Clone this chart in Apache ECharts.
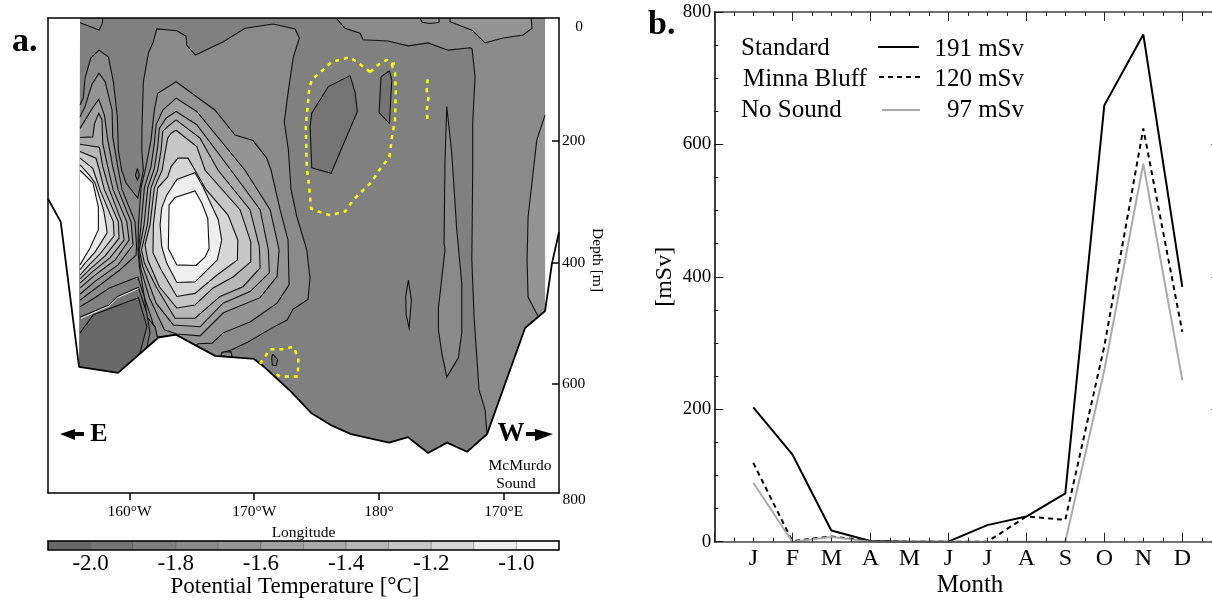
<!DOCTYPE html>
<html><head><meta charset="utf-8">
<style>html,body{margin:0;padding:0;background:#fff;overflow:hidden}#c{width:1212px;height:600px}</style>
<script src="https://cdn.jsdelivr.net/npm/echarts@6/dist/echarts.min.js"></script>
</head><body><div id="c"></div>
<script>
// ---------- panel b data ----------
const monthLabels = ['J','F','M','A','M','J','J','A','S','O','N','D'];
const standardDose = [203,132,17,1,0,0,25,38,73,659,766,385];
const minnaBluffDose = [119,1,8,1,0,0,0,38,33,295,624,317];
const noSoundDose = [89,0,7,0,0,0,0,0,0,259,571,244];

// ---------- panel a data: [longitude (deg, 190 = 170E), depth (m)] ----------
const terrain = [[153.46,295],[154.48,333],[155.95,572],[159.08,582],[162.29,524],[163.73,519],[166.86,554],[169.98,559],[170.79,572],[172.95,613],[174.56,648],[176.24,669],[177.76,683],[180.81,697],[182.34,688],[183.94,714],[185.46,697],[187.07,712],[188.67,683],[191.72,508],[193.32,480],[193.88,401],[194.44,350]];
const fieldTopEdge = [[156.03,-3],[193.32,-3]];
const warm8a = [[156.03,140],[156.29,129],[156.43,96],[156.89,63],[157.55,50],[158.30,61],[158.70,102],[159.02,160],[159.10,215],[159.37,248],[159.72,269],[160.66,294],[161.11,248],[160.98,215],[161.0,176],[161.11,102],[161.51,55],[161.91,36],[162.18,15],[163.79,18],[164.53,27],[164.59,42],[165.28,58],[167.52,36],[169.26,14],[171.53,7],[173.27,15],[173.62,30],[173.14,61],[172.74,116],[172.41,168],[172.74,215],[172.95,280],[173.41,324],[174.21,379],[174.47,426],[174.31,461],[173.11,477],[172.63,495],[171.51,507],[169.5,531],[168.2,544],[167.39,549],[167.34,554]];
const warm8aClose = [[166.86,554],[163.73,519],[162.29,524],[159.08,582],[155.95,572],[156.03,140]];
const topLeftPatch = [[156.03,5],[157.55,17],[157.82,6],[157.85,-3]];
const topLeftClose = [[156.03,-3]];
const eastWarm = [[188.67,683],[188.51,643],[188.03,610],[187.63,490],[187.45,396],[187.52,248],[187.52,170],[187.71,94],[187.47,48],[187.31,46],[185.54,50],[183.94,38],[182.34,43],[180.73,35],[178.73,33],[178.49,22],[177.28,14],[176.56,-3]];
const eastWarmClose = [[193.32,-3],[193.32,480],[191.72,508]];
const eastStrip = [[193.32,157],[192.66,198],[191.96,325],[191.88,396],[191.96,457],[192.74,488]];
const eastStripClose = [[193.32,480]];
const topPatchEast = [[185.7,-3],[185.7,3],[187.47,17],[188.51,38],[189.95,30],[191.56,25],[192.28,14],[192.2,-3]];
const topCap = [[183.3,-3],[183.46,4],[184.1,6],[184.82,4],[184.82,-3]];

const lobe94 = [[156.03,160],[156.43,143],[156.97,107],[157.55,88],[158.04,102],[158.60,149],[158.65,193],[159.05,242],[159.40,280],[160.44,333],[160.56,373],[160.52,388],[159.24,412],[157.31,442],[156.03,462]];
const lobeA0 = [[156.03,179],[157.05,145],[157.53,131],[157.98,157],[158.25,198],[158.65,242],[159.08,280],[160.12,333],[160.28,371],[159.08,404],[157.31,430],[156.03,452]];
const lobeAA = [[156.03,194],[157.05,193],[157.19,171],[157.53,154],[157.79,165],[157.85,204],[158.25,242],[158.68,280],[159.78,333],[159.96,363],[158.84,396],[157.15,422],[156.03,442]];
const lobeB6 = [[156.03,205],[157.58,210],[157.85,242],[158.38,280],[159.37,333],[159.56,363],[158.44,392],[156.99,416],[156.03,434]];
const lobeC4 = [[156.03,217],[157.31,228],[157.58,248],[157.98,280],[159.10,333],[159.16,360],[158.04,389],[156.83,411],[156.03,427]];
const lobeD4 = [[156.03,228],[157.05,245],[157.45,269],[157.62,280],[158.70,333],[158.76,356],[157.63,386],[156.67,406],[156.03,421]];
const lobeEE = [[156.03,239],[156.78,256],[157.23,269],[157.91,313],[158.12,338],[158.20,351],[157.23,383],[156.43,401],[156.03,412]];
const lobeWhite = [[156.03,248],[157.07,269],[157.50,309],[157.50,346],[156.83,376],[156.03,404]];

const mid94 = [[172.71,363],[172.79,437],[171.83,467],[169.66,498],[167.5,516],[166.62,533],[165.49,534],[165.33,537],[163.73,519],[162.21,523],[161.8,495],[161.19,457],[160.79,407],[160.68,379],[160.71,338],[160.92,277],[161.32,242],[161.72,198],[161.99,149],[162.26,121],[163.73,102],[166.86,149],[168.46,190],[169.9,199],[171.0,228],[171.35,248],[172.07,313]];
const midA0 = [[171.99,379],[171.83,423],[170.47,458],[167.52,483],[165.65,521],[163.79,518],[162.79,511],[161.59,458],[160.92,412],[160.72,379],[160.92,338],[161.19,277],[161.72,242],[161.99,203],[162.13,173],[162.66,149],[163.73,129],[165.39,151],[169.26,248],[171.27,313]];
const midAA = [[171.13,379],[171.21,417],[169.66,448],[167.5,467],[165.65,506],[163.51,503],[162.13,467],[161.06,407],[160.79,379],[161.16,338],[161.46,277],[161.99,245],[162.26,209],[162.39,179],[162.93,162],[163.73,151],[165.39,173],[168.14,248],[170.47,313]];
const midB6 = [[170.41,374],[170.47,409],[169.1,440],[167.26,456],[165.25,492],[163.65,492],[162.13,440],[161.19,401],[160.96,379],[161.43,338],[161.72,277],[162.26,248],[162.53,215],[162.66,184],[163.06,176],[163.73,165],[165.65,195],[167.1,248],[169.66,313]];
const midC4 = [[169.72,366],[169.72,399],[168.3,424],[166.7,442],[165.25,470],[163.79,475],[162.39,440],[161.46,396],[161.24,371],[161.64,338],[161.99,277],[162.61,248],[162.79,226],[163.06,195],[163.33,187],[163.73,182],[165.39,209],[166.06,248],[168.86,313]];
const midD4 = [[168.68,363],[168.65,396],[166.99,421],[165.25,451],[163.79,456],[162.53,412],[161.88,384],[161.91,338],[162.26,277],[163.06,259],[163.33,242],[163.87,228],[164.69,228],[165.25,248],[166.14,280],[167.9,322]];
const midEE = [[167.39,363],[167.04,396],[165.25,432],[163.79,433],[162.98,401],[162.58,374],[162.45,338],[162.58,310],[162.98,289],[163.79,263],[165.25,252],[165.89,275],[167.12,330]];
const midWhite = [[166.38,377],[166.06,391],[165.33,405],[163.79,404],[163.11,377],[163.17,305],[163.65,293],[165.25,282],[165.79,302],[166.27,327]];

const wedge80 = [[156.03,473],[157.31,457],[158.38,442],[160.66,424],[161.19,457],[161.4,490],[162.05,506],[162.23,523]];
const wedge80Close = [[162.29,524],[159.08,582],[155.95,572]];
const wedge74 = [[156.03,490],[158.36,470],[159.05,456],[160.71,441],[161.38,483],[161.64,516],[161.38,541]];
const wedge68 = [[156.03,516],[157.1,486],[160.71,458],[161.24,495],[161.38,506],[160.84,549]];
const wedgeFootClose = [[159.08,582],[155.95,572]];
const paleGlitch = [[156.1,492],[158.36,472],[159.05,458],[160.71,443]];

const coldA = [[177.69,92],[178.09,120],[178.27,151],[176.16,253],[174.61,244],[174.48,176],[174.61,154],[175.94,110]];
const coldB = [[180.84,84],[181.03,99],[180.84,171],[180.01,153],[180.17,94]];
const coldC = [[160.63,245],[160.79,256],[160.63,264],[160.47,256]];
const coldD = [[171.48,551],[171.88,560],[171.75,570],[171.45,569],[171.4,557]];
const lensA = [[182.36,429],[182.6,462],[182.42,508],[182.18,486],[182.15,456]];
const lensB = [[185.44,143],[185.84,220],[186.24,346],[186.64,434],[186.64,516],[186.37,557],[185.44,589],[185.04,549],[184.77,511],[184.77,475],[185.3,379],[185.22,368],[185.3,231]];
const notch = [[167.34,554],[167.42,548],[168.14,547],[168.22,556]];

const yellowA = [[179.29,86],[179.95,74],[180.63,66],[181.03,74],[181.29,88],[181.35,121],[181.29,165],[181.03,195],[180.84,226],[179.95,250],[179.42,267],[178.62,283],[177.95,297],[177.28,316],[176.08,322],[175.14,316],[174.56,311],[174.4,275],[174.21,242],[174.13,176],[174.4,116],[174.61,99],[175.54,82],[176.22,69],[177.63,62],[178.22,69],[179.29,86]];
const yellowStub = [[180.97,73],[181.47,71]];
const yellowB = [[183.91,98],[183.83,116],[183.96,129],[183.83,149],[183.91,170]];
const yellowC = [[170.47,567],[170.87,555],[171.27,543],[172.21,543],[173.14,539],[173.54,558],[173.49,588],[172.07,588],[171.51,581]];

// ---------- colour scale ----------
const tempEdges = [-2.1,-2.0,-1.9,-1.8,-1.7,-1.6,-1.5,-1.4,-1.3,-1.2,-1.1,-1.0,-0.9];
const greys = ['#686868','#747474','#808080','#8a8a8a','#949494','#a0a0a0','#aaaaaa','#b6b6b6','#c6c6c6','#d6d6d6','#eeeeee','#ffffff'];
const tempTicks = [-2.0,-1.8,-1.6,-1.4,-1.2,-1.0];
const lonTicks = [160,170,180,190];
const depthTicks = [200,400,600];

const loop = p => p.concat([p[0]]);
const contours = [
 {g:2, line:[], close:fieldTopEdge.concat(terrain.slice(2,21).reverse())},
 {g:3, line:eastWarm, close:eastWarmClose},
 {g:4, line:eastStrip, close:eastStripClose},
 {g:4, line:topPatchEast, close:[]},
 {g:4, line:topCap, close:[]},
 {g:3, line:warm8a, close:warm8aClose},
 {g:3, line:topLeftPatch, close:topLeftClose},
 {g:4, line:lobe94, close:[]},{g:5, line:lobeA0, close:[]},{g:6, line:lobeAA, close:[]},{g:7, line:lobeB6, close:[]},
 {g:8, line:lobeC4, close:[]},{g:9, line:lobeD4, close:[]},{g:10, line:lobeEE, close:[]},{g:11, line:lobeWhite, close:[]},
 {g:4, line:loop(mid94), close:[]},{g:5, line:loop(midA0), close:[]},{g:6, line:loop(midAA), close:[]},{g:7, line:loop(midB6), close:[]},
 {g:8, line:loop(midC4), close:[]},{g:9, line:loop(midD4), close:[]},{g:10, line:loop(midEE), close:[]},{g:11, line:loop(midWhite), close:[]},
 {g:2, line:wedge80, close:wedge80Close},
 {g:1, line:wedge74, close:wedgeFootClose},
 {g:0, line:wedge68, close:wedgeFootClose},
 {g:1, line:loop(coldA), close:[]},{g:1, line:loop(coldB), close:[]},{g:1, line:loop(coldC), close:[]},{g:1, line:loop(coldD), close:[]},
 {g:3, line:loop(lensA), close:[]},{g:3, line:loop(lensB), close:[]},{g:3, line:loop(notch), close:[]}
];

const FONT = '"Liberation Serif","Times New Roman",serif';
const contourItem = (params, api) => {
  const c = contours[api.value(2)];
  const linePts = c.line.map(p => api.coord(p));
  const all = c.line.concat(c.close).map(p => api.coord(p));
  const kids = [{type:'polygon', shape:{points:all}, style:{fill:greys[c.g], stroke:null}}];
  if (linePts.length) kids.push({type:'polyline', shape:{points:linePts}, style:{fill:null, stroke:'#111', lineWidth:1.1}});
  return {type:'group', children:kids};
};
const scaleItem = (params, api) => {
  const i = api.value(2);
  const a = api.coord([tempEdges[i],1]), b = api.coord([tempEdges[i+1],0]);
  return {type:'rect', shape:{x:a[0],y:a[1],width:b[0]-a[0],height:b[1]-a[1]}, style:{fill:greys[i], stroke:'rgba(40,40,40,0.45)', lineWidth:0.6}};
};
const txt = (s,x,y,size,extra) => ({type:'text', x, y, z:50, silent:true, rotation:(extra&&extra.rotation)||0,
  style:{text:s, x:0, y:0, font:((extra&&extra.bold)?'bold ':'')+size+'px '+FONT, fill:'#000', textAlign:(extra&&extra.align)||'center', textVerticalAlign:'middle'}});
const seg = (x1,x2,y,stroke,dash) => ({type:'line', z:50, silent:true, shape:{x1,y1:y,x2,y2:y}, style:{stroke, lineWidth:2, lineDash:dash||null}});
const arrow = pts => ({type:'polygon', z:50, silent:true, shape:{points:pts}, style:{fill:'#000'}});

const yellowSeries = (name,data) => ({name, type:'line', xAxisIndex:0, yAxisIndex:0, data, symbol:'none', z:4, silent:true,
  lineStyle:{color:'#ffff00', width:2.5, type:[4,5]}, animation:false});
const doseSeries = (name,vals,color,type) => ({name, type:'line', xAxisIndex:4, yAxisIndex:4, symbol:'none', z:5, silent:true,
  data:vals.map((v,i)=>[i+1,v]), lineStyle:{color, width:2, type}, animation:false});

const frameAxis = (gridIndex,position,extra) => Object.assign({type:'value', gridIndex, position, z:10, silent:true,
  axisLine:{show:true, onZero:false, lineStyle:{color:'#000', width:1.5}}, axisTick:{show:false}, axisLabel:{show:false}, splitLine:{show:false}}, extra);

const option = {
 backgroundColor:'#fff', animation:false,
 grid:[
  {left:48, top:18, width:511, height:475, outerBoundsMode:'none'},
  {left:48, top:541, width:511, height:8.5, outerBoundsMode:'none'},
  {left:714.3, top:12, width:507, height:529.7, outerBoundsMode:'none'}
 ],
 xAxis:[
  frameAxis(0,'bottom',{min:153.46, max:194.44, name:'Longitude', nameLocation:'middle', nameGap:25,
    nameTextStyle:{fontFamily:FONT, fontSize:15.5, color:'#000'},
    axisTick:{show:true, length:7, customValues:lonTicks, lineStyle:{color:'#000', width:1.5}},
    axisLabel:{show:true, margin:11, customValues:lonTicks, fontFamily:FONT, fontSize:15.5, color:'#000',
      formatter:v=> v<180 ? v+'°W' : v===180 ? '180°' : (360-v)+'°E'}}),
  frameAxis(0,'top',{min:153.46, max:194.44}),
  frameAxis(1,'bottom',{min:-2.1, max:-0.9,
    axisLabel:{show:true, margin:3, customValues:tempTicks, fontFamily:FONT, fontSize:23, color:'#000', formatter:v=>v.toFixed(1)}}),
  frameAxis(1,'top',{min:-2.1, max:-0.9}),
  frameAxis(2,'bottom',{min:0, max:13, interval:2,
    axisLine:{show:true, onZero:false, lineStyle:{color:'#444', width:1.5}},
    axisTick:{show:true, inside:true, length:9, lineStyle:{color:'#222', width:1}},
    minorTick:{show:true, splitNumber:4, length:4, lineStyle:{color:'#222', width:1}},
    axisLabel:{show:true, margin:5, customValues:[1,2,3,4,5,6,7,8,9,10,11,12], fontFamily:FONT, fontSize:24, color:'#000', formatter:v=>monthLabels[v-1]||''}}),
  frameAxis(2,'top',{min:0, max:13, interval:2,
    axisLine:{show:true, onZero:false, lineStyle:{color:'#444', width:1.5}},
    axisTick:{show:true, inside:true, length:9, lineStyle:{color:'#222', width:1}},
    minorTick:{show:true, splitNumber:4, length:4, lineStyle:{color:'#222', width:1}}})
 ],
 yAxis:[
  frameAxis(0,'right',{min:-3, max:780, inverse:true,
    axisTick:{show:true, inside:true, length:7, customValues:depthTicks, lineStyle:{color:'#000', width:1.5}},
    axisLabel:{show:true, margin:3, customValues:depthTicks, fontFamily:FONT, fontSize:15.5, color:'#000'}}),
  frameAxis(0,'left',{min:-3, max:780, inverse:true}),
  frameAxis(1,'left',{min:0, max:1}),
  frameAxis(1,'right',{min:0, max:1}),
  frameAxis(2,'left',{min:0, max:800, interval:200, name:'[mSv]', nameLocation:'middle', nameGap:38, nameRotate:90,
    nameTextStyle:{fontFamily:FONT, fontSize:24, color:'#000'},
    axisTick:{show:true, inside:true, length:9, lineStyle:{color:'#111', width:1}},
    minorTick:{show:true, splitNumber:4, length:4, lineStyle:{color:'#111', width:1}},
    axisLabel:{show:true, margin:3, fontFamily:FONT, fontSize:19, color:'#000'}}),
  frameAxis(2,'right',{min:0, max:800, interval:200,
    axisTick:{show:true, inside:true, length:10, lineStyle:{color:'#111', width:1}},
    minorTick:{show:true, splitNumber:4, length:4, lineStyle:{color:'#111', width:1}}})
 ],
 series:[
  {name:'Potential temperature', type:'custom', xAxisIndex:0, yAxisIndex:0, z:2, silent:true, clip:true, animation:false,
   renderItem:contourItem, data:contours.map((c,i)=>[(c.line[0]||c.close[0])[0],(c.line[0]||c.close[0])[1],i])},
  {name:'Pale edge', type:'line', xAxisIndex:0, yAxisIndex:0, data:paleGlitch, symbol:'none', z:3, silent:true, lineStyle:{color:'#eeeeee', width:1}, animation:false},
  {name:'Sea floor', type:'line', xAxisIndex:0, yAxisIndex:0, data:terrain, symbol:'none', z:3, silent:true, lineStyle:{color:'#000', width:1.8}, animation:false},
  yellowSeries('Region A',yellowA), yellowSeries('Region A stub',yellowStub), yellowSeries('Region B',yellowB), yellowSeries('Region C',yellowC),
  {name:'Temperature scale', type:'custom', xAxisIndex:2, yAxisIndex:2, z:2, silent:true, animation:false,
   renderItem:scaleItem, data:greys.map((g,i)=>[tempEdges[i],0,i])},
  doseSeries('Standard',standardDose,'#000','solid'),
  doseSeries('Minna Bluff',minnaBluffDose,'#000',[5,4]),
  doseSeries('No Sound',noSoundDose,'#aaaaaa','solid')
 ],
 graphic:[
  txt('a.',12,42,34,{bold:true,align:'left'}),
  txt('b.',648,25,34,{bold:true,align:'left'}),
  txt('E',99,434,26,{bold:true}),
  txt('W',511,434,27,{bold:true}),
  arrow([[60,434],[75,429],[75,432],[84,432],[84,436],[75,436],[75,440]]),
  arrow([[553,434],[535,429],[535,432],[526,432],[526,436],[535,436],[535,441]]),
  txt('McMurdo',520,466,15.5),
  txt('Sound',516,484,15.5),
  txt('0',579,27,15.5),
  txt('800',574,500,15.5),
  txt('Depth [m]',597,260,15.5,{rotation:-Math.PI/2}),
  txt('Potential Temperature [°C]',295,587,23),
  txt('Month',970,585,25),
  txt('Standard',741,48,25,{align:'left'}),
  txt('Minna Bluff',743,79,25,{align:'left'}),
  txt('No Sound',741,110,25,{align:'left'}),
  txt('191 mSv',1024,49,25,{align:'right'}),
  txt('120 mSv',1024,79,25,{align:'right'}),
  txt('97 mSv',1024,110,25,{align:'right'}),
  seg(878,919,47,'#000'),
  seg(879,920,77,'#000',[5,4]),
  seg(882,920,110,'#aaaaaa')
 ]
};
const chart = echarts.init(document.getElementById('c'), null, {renderer:'canvas', width:1212, height:600});
chart.setOption(option);
</script></body></html>
